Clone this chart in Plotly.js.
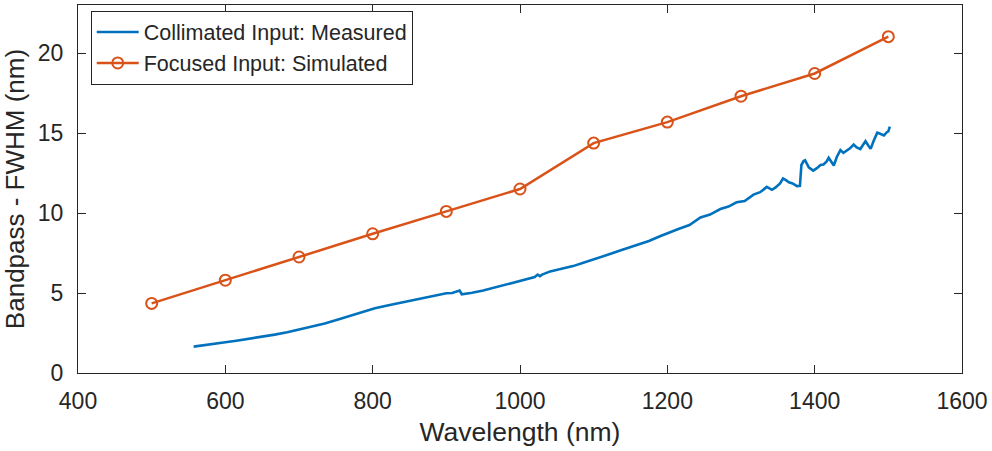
<!DOCTYPE html>
<html>
<head>
<meta charset="utf-8">
<script src="https://cdn.plot.ly/plotly-3.0.1.min.js"></script>
<style>html,body{margin:0;padding:0;background:#fff;}#chart{width:992px;height:451px;}</style>
</head>
<body>
<div id="chart"></div>
<script>
// Focused input: simulated
var simWavelength = [500, 600, 700, 800, 900, 1000, 1100, 1200, 1300, 1400, 1500];
var simFWHM = [4.35, 5.8, 7.25, 8.7, 10.1, 11.5, 14.37, 15.68, 17.3, 18.72, 21.02];

// Collimated input: measured
var measWavelength = [557, 570, 585, 600, 615, 633, 650, 667, 684, 701, 718, 735, 752, 769, 786, 803, 820, 837, 854, 870, 887, 900, 908, 914, 918, 921, 926, 935, 950, 962, 973, 985, 997, 1010, 1020, 1024, 1027, 1030, 1041, 1055, 1072, 1088, 1104, 1120, 1140, 1160, 1175, 1190, 1200, 1215, 1230, 1245, 1258, 1272, 1283, 1294, 1305, 1317, 1326, 1335, 1342, 1347, 1353, 1357, 1361, 1365, 1370, 1376, 1380, 1382, 1385, 1387, 1392, 1398, 1403, 1408, 1412, 1416, 1419, 1423, 1426, 1430, 1435, 1439, 1444, 1448, 1453, 1457, 1462, 1465, 1469, 1473, 1476, 1480, 1485, 1489, 1494, 1498, 1500, 1502];
var measFWHM = [1.65, 1.72, 1.82, 1.92, 2.02, 2.14, 2.27, 2.4, 2.55, 2.72, 2.9, 3.1, 3.33, 3.58, 3.83, 4.05, 4.22, 4.38, 4.55, 4.72, 4.87, 4.98, 5.0, 5.12, 5.15, 4.92, 4.95, 5.02, 5.15, 5.3, 5.44, 5.58, 5.72, 5.87, 6.0, 6.15, 6.05, 6.15, 6.35, 6.5, 6.68, 6.92, 7.15, 7.4, 7.72, 8.0, 8.25, 8.55, 8.75, 9.0, 9.25, 9.72, 9.9, 10.25, 10.4, 10.67, 10.75, 11.15, 11.3, 11.63, 11.45, 11.6, 11.85, 12.15, 12.05, 11.92, 11.85, 11.68, 11.7, 13.0, 13.25, 13.3, 12.85, 12.65, 12.8, 13.0, 13.03, 13.2, 13.45, 13.2, 12.97, 13.5, 13.93, 13.76, 13.9, 14.05, 14.28, 14.1, 14.0, 14.25, 14.49, 14.2, 14.01, 14.5, 15.02, 14.95, 14.85, 15.05, 15.1, 15.4];

var xTicks = [400, 600, 800, 1000, 1200, 1400, 1600];
var yTicks = [0, 5, 10, 15, 20];

var axisColor = '#262626';
var fontFam = 'Liberation Sans, Arial, Helvetica, sans-serif';

var traces = [
  {
    x: measWavelength, y: measFWHM, type: 'scatter', mode: 'lines',
    name: 'Collimated Input: Measured',
    line: {color: '#0072BD', width: 2.6}
  },
  {
    x: simWavelength, y: simFWHM, type: 'scatter', mode: 'lines+markers',
    name: 'Focused Input: Simulated',
    line: {color: '#D95319', width: 2.5},
    marker: {symbol: 'circle-open', size: 11, color: '#D95319', line: {width: 2, color: '#D95319'}}
  }
];

var layout = {
  width: 992, height: 451,
  margin: {l: 78, r: 30, t: 5, b: 78},
  paper_bgcolor: '#fff', plot_bgcolor: '#fff',
  font: {family: fontFam, color: axisColor},
  showlegend: true,
  legend: {
    x: 0.0144, y: 0.985, xanchor: 'left', yanchor: 'top',
    bgcolor: '#fff', bordercolor: axisColor, borderwidth: 1,
    font: {size: 21.5, color: axisColor, family: fontFam},
    itemwidth: 42,
    tracegroupgap: 0
  },
  xaxis: {
    range: [400, 1600], tickvals: xTicks, ticktext: xTicks.map(String),
    ticks: 'inside', ticklen: 8, tickwidth: 1, tickcolor: axisColor,
    showline: true, linecolor: axisColor, linewidth: 1, mirror: 'ticks',
    showgrid: false, zeroline: false,
    ticklabelstandoff: 7,
    tickfont: {size: 23, color: axisColor},
    title: {text: 'Wavelength (nm)', font: {size: 26.5, color: axisColor}, standoff: 9}
  },
  yaxis: {
    range: [0, 23], tickvals: yTicks, ticktext: yTicks.map(String),
    ticks: 'inside', ticklen: 8, tickwidth: 1, tickcolor: axisColor,
    showline: true, linecolor: axisColor, linewidth: 1, mirror: 'ticks',
    showgrid: false, zeroline: false,
    ticklabelstandoff: 9,
    tickfont: {size: 23, color: axisColor},
    title: {text: 'Bandpass - FWHM (nm)', font: {size: 26, color: axisColor}, standoff: 10}
  }
};

Plotly.newPlot('chart', traces, layout, {staticPlot: true, displayModeBar: false});
</script>
</body>
</html>
